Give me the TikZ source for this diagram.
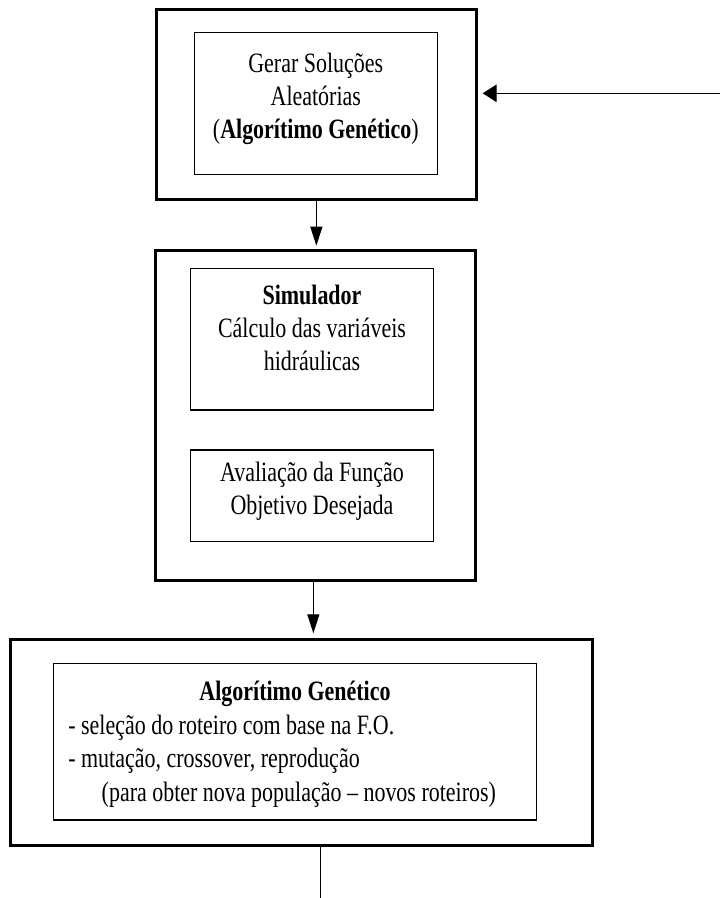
\documentclass[tikz,border=0pt]{standalone}
\usepackage{fontspec}
\setmainfont{Liberation Serif}[FakeStretch=0.785]
\usetikzlibrary{arrows.meta}
\begin{document}
\begin{tikzpicture}[x=1pt,y=-1pt,
  outerbox/.style={draw, line width=3pt, inner sep=0pt, outer sep=0pt},
  innerbox/.style={draw, line width=1.2pt, inner sep=0pt, outer sep=0pt},
  txt/.style={inner sep=0pt, outer sep=0pt, font=\fontsize{28}{33}\selectfont},
  conn/.style={line width=1.2pt},
  arrV/.style={conn, -{Triangle[length=19pt,width=12pt]}},
  arrH/.style={conn, -{Triangle[length=14pt,width=17.5pt]}}]
\useasboundingbox[fill=white] (0,0) rectangle (720,898);
% boxes
\node[outerbox, minimum width=319.3pt, minimum height=189.7pt] (outer1) at (316.35,104.15) {};
\node[innerbox, minimum width=243pt, minimum height=141.6pt] (inner1) at (315.8,103.5) {};
\node[outerbox, minimum width=319.3pt, minimum height=330pt] (outer2) at (315.35,415) {};
\node[innerbox, minimum width=242.6pt, minimum height=141.7pt] (sim) at (312,339.15) {};
\node[innerbox, minimum width=242.6pt, minimum height=91.7pt] (aval) at (312,495.85) {};
\node[outerbox, minimum width=582.3pt, minimum height=205.7pt] (outer3) at (301.15,742.15) {};
\node[innerbox, minimum width=483.4pt, minimum height=156.7pt] (inner3) at (295,741.65) {};
% texts
\node[txt, anchor=base] (t11) at (315.8,72) {Gerar Soluções};
\node[txt, anchor=base] (t12) at (315.8,105) {Aleatórias};
\node[txt, anchor=base] (t13) at (315.8,138) {(\textbf{Algorítimo Genético})};
\node[txt, anchor=base] (t21) at (312,304) {\textbf{Simulador}};
\node[txt, anchor=base] (t22) at (312,337) {Cálculo das variáveis};
\node[txt, anchor=base] (t23) at (312,370) {hidráulicas};
\node[txt, anchor=base] (t31) at (312,481) {Avaliação da Função};
\node[txt, anchor=base] (t32) at (312,514) {Objetivo Desejada};
\node[txt, anchor=base] (t41) at (295,700) {\textbf{Algorítimo Genético}};
\node[txt, anchor=base west] (t42) at (68.3,734) {- seleção do roteiro com base na F.O.};
\node[txt, anchor=base west] (t43) at (68.3,767) {- mutação, crossover, reprodução};
\node[txt, anchor=base west] (t44) at (101.7,801) {(para obter nova população – novos roteiros)};
% connectors
\coordinate (inStart) at (720,93.3);
\coordinate (inEnd) at (482.7,93.3);
\draw[arrH] (inStart) -- (inEnd);
\draw[arrV, shorten >=4.3pt] (outer1.south) -- (outer1.south |- outer2.north);
\draw[arrV, shorten >=6pt] ([xshift=-2pt]outer2.south) -- ([xshift=-2pt]outer2.south |- outer3.north);
\coordinate (outEnd) at (320.7,898);
\draw[conn] ([xshift=19.55pt]outer3.south) -- (outEnd);
\end{tikzpicture}
\end{document}
